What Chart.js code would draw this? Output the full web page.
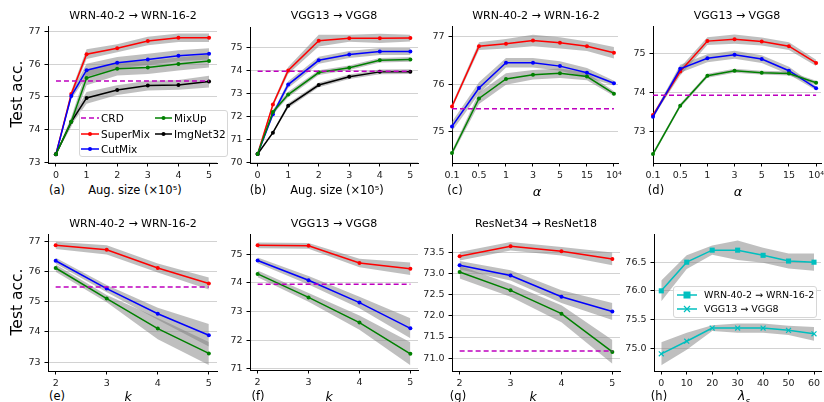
<!DOCTYPE html>
<html>
<head>
<meta charset="utf-8">
<script src="https://cdn.jsdelivr.net/npm/chart.js@4.4.1/dist/chart.umd.min.js"></script>
<style>
  body { margin: 0; width: 824px; height: 402px; position: relative; overflow: hidden; background: #fff; font-family: "DejaVu Sans", sans-serif; }
  canvas { position: absolute; }
  .t { position: absolute; transform: translate(-50%, -50%); white-space: nowrap; color: #000; line-height: 1; }
  .lt { position: absolute; transform: translateY(-50%); white-space: nowrap; color: #000; line-height: 1; }
  .box { position: absolute; border: 1px solid #d6d6d6; border-radius: 3px; background: rgba(255,255,255,0.85); box-sizing: border-box; }
  svg { position: absolute; overflow: visible; }
</style>
</head>
<body>
<script>
// x values
const augSize = [0, 0.5, 1, 2, 3, 4, 5];
const alphaTicks = ['0.1', '0.5', '1', '3', '5', '15', '10⁴'];
const kVals = [2, 3, 4, 5];
const lambdaVals = [0, 10, 20, 30, 40, 50, 60];

// (a) WRN-40-2 -> WRN-16-2, augmentation size
const aSuperMix = [73.25, 75.09, 76.31, 76.49, 76.71, 76.81, 76.81];
const aCutMix   = [73.25, 75.03, 75.82, 76.05, 76.15, 76.26, 76.32];
const aMixUp    = [73.25, 74.24, 75.58, 75.86, 75.90, 76.01, 76.10];
const aImgNet   = [73.25, 74.24, 74.97, 75.21, 75.35, 75.37, 75.47];
const aSuperMixStd = [0.02, 0.10, 0.15, 0.12, 0.13, 0.13, 0.13];
const aCutMixStd   = [0.02, 0.10, 0.20, 0.17, 0.17, 0.17, 0.17];
const aMixUpStd    = [0.02, 0.15, 0.22, 0.20, 0.20, 0.20, 0.20];
const aImgNetStd   = [0.02, 0.10, 0.18, 0.15, 0.15, 0.15, 0.18];
const aCRD = 75.49;

// (b) VGG13 -> VGG8, augmentation size
const bSuperMix = [70.38, 72.52, 73.99, 75.28, 75.38, 75.38, 75.39];
const bCutMix   = [70.38, 72.10, 73.38, 74.43, 74.68, 74.81, 74.81];
const bMixUp    = [70.38, 72.20, 72.95, 73.90, 74.11, 74.43, 74.47];
const bImgNet   = [70.38, 71.30, 72.47, 73.36, 73.72, 73.93, 73.94];
const bSuperMixStd = [0.02, 0.10, 0.15, 0.25, 0.15, 0.20, 0.15];
const bCutMixStd   = [0.02, 0.10, 0.15, 0.15, 0.15, 0.15, 0.15];
const bMixUpStd    = [0.02, 0.10, 0.12, 0.10, 0.10, 0.10, 0.10];
const bImgNetStd   = [0.02, 0.05, 0.10, 0.10, 0.10, 0.10, 0.10];
const bCRD = 73.96;

// (c) WRN-40-2 -> WRN-16-2, alpha
const cSuperMix = [75.53, 76.80, 76.85, 76.92, 76.87, 76.80, 76.66];
const cCutMix   = [75.11, 75.92, 76.45, 76.45, 76.38, 76.24, 76.02];
const cMixUp    = [74.55, 75.70, 76.11, 76.20, 76.23, 76.16, 75.80];
const cSuperMixStd = [0.05, 0.08, 0.10, 0.12, 0.12, 0.10, 0.12];
const cCutMixStd   = [0.10, 0.12, 0.10, 0.10, 0.10, 0.10, 0.05];
const cMixUpStd    = [0.05, 0.12, 0.12, 0.10, 0.10, 0.08, 0.05];
const cCRD = 75.48;

// (d) VGG13 -> VGG8, alpha
const dSuperMix = [73.42, 74.54, 75.32, 75.37, 75.31, 75.19, 74.76];
const dCutMix   = [73.38, 74.61, 74.88, 74.97, 74.86, 74.56, 74.11];
const dMixUp    = [72.42, 73.66, 74.43, 74.56, 74.51, 74.49, 74.25];
const dSuperMixStd = [0.05, 0.10, 0.10, 0.12, 0.10, 0.10, 0.08];
const dCutMixStd   = [0.05, 0.10, 0.10, 0.10, 0.10, 0.10, 0.05];
const dMixUpStd    = [0.05, 0.05, 0.05, 0.05, 0.05, 0.05, 0.05];
const dCRD = 73.93;

// (e) WRN-40-2 -> WRN-16-2, k
const eSuperMix = [76.86, 76.71, 76.11, 75.60];
const eCutMix   = [76.35, 75.43, 74.60, 73.89];
const eMixUp    = [76.11, 75.10, 74.11, 73.29];
const eSuperMixStd = [0.12, 0.15, 0.15, 0.20];
const eCutMixStd   = [0.10, 0.12, 0.20, 0.37];
const eMixUpStd    = [0.12, 0.12, 0.35, 0.38];
const eCRD = 75.48;

// (f) VGG13 -> VGG8, k
const fSuperMix = [75.31, 75.29, 74.69, 74.49];
const fCutMix   = [74.78, 74.09, 73.31, 72.41];
const fMixUp    = [74.31, 73.49, 72.61, 71.52];
const fSuperMixStd = [0.10, 0.10, 0.15, 0.22];
const fCutMixStd   = [0.10, 0.15, 0.20, 0.35];
const fMixUpStd    = [0.12, 0.15, 0.25, 0.40];
const fCRD = 73.95;

// (g) ResNet34 -> ResNet18, k
const gSuperMix = [73.40, 73.64, 73.52, 73.34];
const gCutMix   = [73.19, 72.95, 72.45, 72.10];
const gMixUp    = [73.03, 72.60, 72.05, 71.15];
const gSuperMixStd = [0.10, 0.10, 0.10, 0.15];
const gCutMixStd   = [0.10, 0.12, 0.15, 0.20];
const gMixUpStd    = [0.15, 0.15, 0.20, 0.28];
const gCRD = 71.17;

// (h) lambda_s
const hWRN = [76.00, 76.50, 76.71, 76.71, 76.62, 76.52, 76.50];
const hVGG = [74.90, 75.12, 75.35, 75.35, 75.35, 75.31, 75.25];
const hWRNStd = [0.18, 0.12, 0.08, 0.17, 0.13, 0.13, 0.15];
const hVGGStd = [0.20, 0.15, 0.05, 0.08, 0.08, 0.08, 0.12];

const RED = '#ff0000', BLUE = '#0000ff', GREEN = '#008000', BLACK = '#000000';
const MAGENTA = '#bf00bf', CYAN = '#00bfbf';
const BAND = 'rgba(128,128,128,0.5)';
const PADL = 40, PADR = 12, PADT = 8, PADB = 18;

Chart.defaults.font.family = '"DejaVu Sans", sans-serif';
Chart.defaults.font.size = 9.5;
Chart.defaults.color = '#222';

function makePanel(p) {
  const cv = document.createElement('canvas');
  const W = p.r - p.l + PADL + PADR, H = p.b - p.t + PADT + PADB;
  cv.width = W; cv.height = H;
  cv.style.left = (p.l - PADL) + 'px';
  cv.style.top = (p.t - PADT) + 'px';
  document.body.appendChild(cv);

  const datasets = [];
  if (p.crd !== undefined) {
    datasets.push({
      data: [{x: p.xs[0], y: p.crd}, {x: p.xs[p.xs.length - 1], y: p.crd}],
      borderColor: MAGENTA, borderWidth: 1.5, borderDash: [5, 3],
      pointRadius: 0, fill: false, order: 0
    });
  }
  p.series.forEach(s => {
    datasets.push({
      data: p.xs.map((x, i) => ({x: x, y: s.data[i]})),
      borderColor: s.color, backgroundColor: s.color, borderWidth: 1.5,
      pointStyle: s.marker || 'circle', pointRadius: s.radius || 2,
      pointBorderWidth: s.marker === 'crossRot' ? 1.2 : 0,
      pointBorderColor: s.color, fill: false, order: 1
    });
  });
  p.series.forEach(s => {
    datasets.push({
      data: p.xs.map((x, i) => ({x: x, y: s.data[i] + s.std[i]})),
      borderWidth: 0, pointRadius: 0, fill: '+1', backgroundColor: BAND, order: 10
    });
    datasets.push({
      data: p.xs.map((x, i) => ({x: x, y: s.data[i] - s.std[i]})),
      borderWidth: 0, pointRadius: 0, fill: false, order: 10
    });
  });

  new Chart(cv, {
    type: 'line',
    data: { datasets },
    options: {
      responsive: false, animation: false, devicePixelRatio: 1,
      clip: false,
      layout: { padding: { left: 0, right: PADR, top: PADT, bottom: 0 } },
      plugins: { legend: { display: false }, tooltip: { enabled: false } },
      elements: { line: { tension: 0 } },
      scales: {
        x: {
          type: 'linear', min: p.xMin, max: p.xMax,
          afterBuildTicks: s => { s.ticks = p.xTicks.map(v => ({value: v})); },
          afterFit: s => { s.height = PADB; },
          ticks: { callback: p.xLabel, padding: 3, maxRotation: 0, autoSkip: false },
          grid: { drawOnChartArea: false, tickLength: 3.5, tickColor: '#000', tickWidth: 1 },
          border: { color: '#000', width: 1 }
        },
        y: {
          type: 'linear', min: p.yMin, max: p.yMax,
          afterBuildTicks: s => { s.ticks = p.yTicks.map(v => ({value: v})); },
          afterFit: s => { s.width = PADL; },
          ticks: { callback: v => v.toFixed(p.yDec), padding: 4, autoSkip: false },
          grid: { color: '#d2d2d2', lineWidth: 1, tickLength: 3.5, tickColor: '#000', tickWidth: 1 },
          border: { color: '#000', width: 1 }
        }
      }
    }
  });
}

const numLabel = v => String(v);
const alphaLabel = (v, i) => alphaTicks[i];
const alphaPos = alphaTicks.map((_, i) => i);

const four = (sm, smS, cm, cmS, mu, muS, im, imS) => [
  {data: mu, std: muS, color: GREEN},
  {data: im, std: imS, color: BLACK},
  {data: cm, std: cmS, color: BLUE},
  {data: sm, std: smS, color: RED}
];
const three = (sm, smS, cm, cmS, mu, muS) => [
  {data: mu, std: muS, color: GREEN},
  {data: cm, std: cmS, color: BLUE},
  {data: sm, std: smS, color: RED}
];

makePanel({ l: 48, t: 25, r: 217, b: 163, xs: augSize, xTicks: augSize.filter(v => v !== 0.5), xLabel: numLabel,
  xMin: -0.26, xMax: 5.26, yMin: 72.98, yMax: 77.15, yTicks: [73, 74, 75, 76, 77], yDec: 0, crd: aCRD,
  series: four(aSuperMix, aSuperMixStd, aCutMix, aCutMixStd, aMixUp, aMixUpStd, aImgNet, aImgNetStd) });
makePanel({ l: 250, t: 26, r: 418, b: 163, xs: augSize, xTicks: augSize.filter(v => v !== 0.5), xLabel: numLabel,
  xMin: -0.25, xMax: 5.25, yMin: 69.99, yMax: 75.84, yTicks: [70, 71, 72, 73, 74, 75], yDec: 0, crd: bCRD,
  series: four(bSuperMix, bSuperMixStd, bCutMix, bCutMixStd, bMixUp, bMixUpStd, bImgNet, bImgNetStd) });
makePanel({ l: 452, t: 25, r: 618, b: 163, xs: alphaPos, xTicks: alphaPos, xLabel: alphaLabel,
  xMin: 0, xMax: 6.15, yMin: 74.34, yMax: 77.21, yTicks: [75, 76, 77], yDec: 0, crd: cCRD,
  series: three(cSuperMix, cSuperMixStd, cCutMix, cCutMixStd, cMixUp, cMixUpStd) });
makePanel({ l: 653, t: 25, r: 821, b: 163, xs: alphaPos, xTicks: alphaPos, xLabel: alphaLabel,
  xMin: 0, xMax: 6.18, yMin: 72.19, yMax: 75.69, yTicks: [73, 74, 75], yDec: 0, crd: dCRD,
  series: three(dSuperMix, dSuperMixStd, dCutMix, dCutMixStd, dMixUp, dMixUpStd) });
makePanel({ l: 48, t: 233, r: 217, b: 371, xs: kVals, xTicks: kVals, xLabel: numLabel,
  xMin: 1.85, xMax: 5.16, yMin: 72.71, yMax: 77.21, yTicks: [73, 74, 75, 76, 77], yDec: 0, crd: eCRD,
  series: three(eSuperMix, eSuperMixStd, eCutMix, eCutMixStd, eMixUp, eMixUpStd) });
makePanel({ l: 250, t: 233, r: 418, b: 370, xs: kVals, xTicks: kVals, xLabel: numLabel,
  xMin: 1.85, xMax: 5.15, yMin: 70.955, yMax: 75.68, yTicks: [71, 72, 73, 74, 75], yDec: 0, crd: fCRD,
  series: three(fSuperMix, fSuperMixStd, fCutMix, fCutMixStd, fMixUp, fMixUpStd) });
makePanel({ l: 452, t: 233, r: 620, b: 371, xs: kVals, xTicks: kVals, xLabel: numLabel,
  xMin: 1.85, xMax: 5.15, yMin: 70.7, yMax: 73.91, yTicks: [71, 71.5, 72, 72.5, 73, 73.5], yDec: 1, crd: gCRD,
  series: three(gSuperMix, gSuperMixStd, gCutMix, gCutMixStd, gMixUp, gMixUpStd) });
makePanel({ l: 654, t: 233, r: 821, b: 371, xs: lambdaVals, xTicks: lambdaVals, xLabel: numLabel,
  xMin: -2.86, xMax: 62.75, yMin: 74.6, yMax: 76.98, yTicks: [75, 75.5, 76, 76.5], yDec: 1,
  series: [
    {data: hVGG, std: hVGGStd, color: CYAN, marker: 'crossRot', radius: 3.5},
    {data: hWRN, std: hWRNStd, color: CYAN, marker: 'rect', radius: 3.6}
  ] });

// text: titles, panel tags, axis labels
function txt(html, x, y, size, cls, extra) {
  const d = document.createElement('div');
  d.className = cls || 't';
  d.innerHTML = html;
  d.style.left = x + 'px'; d.style.top = y + 'px'; d.style.fontSize = size + 'px';
  if (extra) Object.assign(d.style, extra);
  document.body.appendChild(d);
}
const W2 = 'WRN-40-2 → WRN-16-2', V2 = 'VGG13 → VGG8';
txt(W2, 133, 15, 11); txt(V2, 334, 15, 11); txt(W2, 536, 15, 11); txt(V2, 737, 15, 11);
txt(W2, 133, 223, 11); txt(V2, 334, 223, 11); txt('ResNet34 → ResNet18', 536, 223, 11);
txt('Test acc.', 18, 94, 15.5, 't', {transform: 'translate(-50%,-50%) rotate(-90deg)'});
txt('Test acc.', 18, 302, 15.5, 't', {transform: 'translate(-50%,-50%) rotate(-90deg)'});
txt('(a)', 57, 191, 11.5); txt('(b)', 258, 191, 11.5); txt('(c)', 455, 191, 11.5); txt('(d)', 656, 191, 11.5);
txt('(e)', 57, 397, 11.5); txt('(f)', 258, 397, 11.5); txt('(g)', 458, 397, 11.5); txt('(h)', 659, 397, 11.5);
txt('Aug. size (×10⁵)', 135, 191, 11.5); txt('Aug. size (×10⁵)', 337, 191, 11.5);
txt('<i>α</i>', 537, 191, 13); txt('<i>α</i>', 738, 191, 13);
txt('<i>k</i>', 128, 397, 12.5); txt('<i>k</i>', 329, 397, 12.5); txt('<i>k</i>', 533, 397, 12.5);
txt('<i>λ<sub style="font-size:70%">s</sub></i>', 744, 398, 12.5);

// legends
function box(l, t, w, h) {
  const d = document.createElement('div');
  d.className = 'box';
  Object.assign(d.style, {left: l + 'px', top: t + 'px', width: w + 'px', height: h + 'px'});
  document.body.appendChild(d);
}
function sample(x1, x2, y, color, marker, dash) {
  const ns = 'http://www.w3.org/2000/svg';
  const s = document.createElementNS(ns, 'svg');
  s.setAttribute('width', x2 - x1); s.setAttribute('height', 10);
  s.style.left = x1 + 'px'; s.style.top = (y - 5) + 'px';
  const ln = document.createElementNS(ns, 'line');
  ln.setAttribute('x1', 0); ln.setAttribute('x2', x2 - x1); ln.setAttribute('y1', 5); ln.setAttribute('y2', 5);
  ln.setAttribute('stroke', color); ln.setAttribute('stroke-width', 1.5);
  if (dash) ln.setAttribute('stroke-dasharray', dash);
  s.appendChild(ln);
  const c = (x2 - x1) / 2;
  let m;
  if (marker === 'circle') {
    m = document.createElementNS(ns, 'circle');
    m.setAttribute('cx', c); m.setAttribute('cy', 5); m.setAttribute('r', 2); m.setAttribute('fill', color);
  } else if (marker === 'rect') {
    m = document.createElementNS(ns, 'rect');
    m.setAttribute('x', c - 3.5); m.setAttribute('y', 1.5); m.setAttribute('width', 7); m.setAttribute('height', 7); m.setAttribute('fill', color);
  } else if (marker === 'x') {
    m = document.createElementNS(ns, 'path');
    m.setAttribute('d', `M${c-3},2 L${c+3},8 M${c-3},8 L${c+3},2`);
    m.setAttribute('stroke', color); m.setAttribute('stroke-width', 1.2);
  }
  if (m) s.appendChild(m);
  document.body.appendChild(s);
}
box(79, 110, 149, 47);
sample(81, 99, 118, MAGENTA, null, '5 3'); txt('CRD', 101, 118, 10.5, 'lt');
sample(81, 99, 134, RED, 'circle'); txt('SuperMix', 101, 134, 10.5, 'lt');
sample(81, 99, 149, BLUE, 'circle'); txt('CutMix', 101, 149, 10.5, 'lt');
sample(155, 172, 118, GREEN, 'circle'); txt('MixUp', 174, 118, 10.5, 'lt');
sample(155, 172, 134, BLACK, 'circle'); txt('ImgNet32', 174, 134, 10.5, 'lt');

box(673, 286, 144, 32);
sample(677, 697, 295, CYAN, 'rect'); txt(W2, 704, 295, 9.5, 'lt');
sample(677, 697, 309, CYAN, 'x'); txt(V2, 704, 309, 9.5, 'lt');
</script>
</body>
</html>
